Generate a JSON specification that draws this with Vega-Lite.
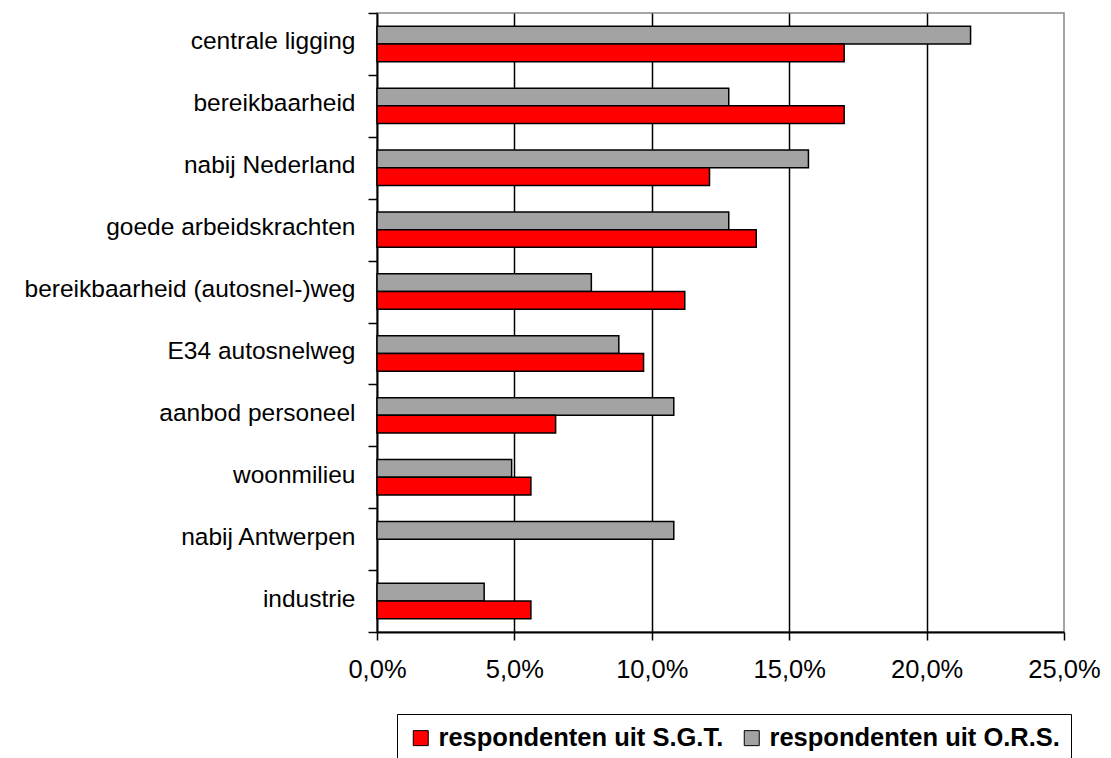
{
  "$schema": "https://vega.github.io/schema/vega-lite/v6.json",
  "width": 687,
  "height": 619,
  "autosize": {"type": "none"},
  "padding": {"left": 377, "top": 13, "right": 47, "bottom": 126},
  "background": "white",
  "config": {"view": {"stroke": "#888888", "strokeWidth": 1.5}, "font": "Liberation Sans"},
  "data": {
    "values": [
      {"factor": "centrale ligging", "group": "respondenten uit O.R.S.", "pct": 21.6},
      {"factor": "centrale ligging", "group": "respondenten uit S.G.T.", "pct": 17.0},
      {"factor": "bereikbaarheid", "group": "respondenten uit O.R.S.", "pct": 12.8},
      {"factor": "bereikbaarheid", "group": "respondenten uit S.G.T.", "pct": 17.0},
      {"factor": "nabij Nederland", "group": "respondenten uit O.R.S.", "pct": 15.7},
      {"factor": "nabij Nederland", "group": "respondenten uit S.G.T.", "pct": 12.1},
      {"factor": "goede arbeidskrachten", "group": "respondenten uit O.R.S.", "pct": 12.8},
      {"factor": "goede arbeidskrachten", "group": "respondenten uit S.G.T.", "pct": 13.8},
      {"factor": "bereikbaarheid (autosnel-)weg", "group": "respondenten uit O.R.S.", "pct": 7.8},
      {"factor": "bereikbaarheid (autosnel-)weg", "group": "respondenten uit S.G.T.", "pct": 11.2},
      {"factor": "E34 autosnelweg", "group": "respondenten uit O.R.S.", "pct": 8.8},
      {"factor": "E34 autosnelweg", "group": "respondenten uit S.G.T.", "pct": 9.7},
      {"factor": "aanbod personeel", "group": "respondenten uit O.R.S.", "pct": 10.8},
      {"factor": "aanbod personeel", "group": "respondenten uit S.G.T.", "pct": 6.5},
      {"factor": "woonmilieu", "group": "respondenten uit O.R.S.", "pct": 4.9},
      {"factor": "woonmilieu", "group": "respondenten uit S.G.T.", "pct": 5.6},
      {"factor": "nabij Antwerpen", "group": "respondenten uit O.R.S.", "pct": 10.8},
      {"factor": "industrie", "group": "respondenten uit O.R.S.", "pct": 3.9},
      {"factor": "industrie", "group": "respondenten uit S.G.T.", "pct": 5.6}
    ]
  },
  "mark": {"type": "bar", "stroke": "black", "strokeWidth": 1.5},
  "encoding": {
    "y": {
      "field": "factor",
      "type": "nominal",
      "sort": ["centrale ligging", "bereikbaarheid", "nabij Nederland", "goede arbeidskrachten", "bereikbaarheid (autosnel-)weg", "E34 autosnelweg", "aanbod personeel", "woonmilieu", "nabij Antwerpen", "industrie"],
      "scale": {"paddingInner": 0, "paddingOuter": 0},
      "axis": {
        "title": null,
        "tickBand": "extent",
        "domainColor": "black",
        "domainWidth": 2,
        "tickColor": "black",
        "tickWidth": 1.5,
        "tickSize": 9,
        "labelFont": "Liberation Sans",
        "labelFontSize": 24.5,
        "labelColor": "black",
        "labelPadding": 13,
        "labelOffset": -2,
        "labelLimit": 400
      }
    },
    "yOffset": {
      "field": "group",
      "type": "nominal",
      "sort": ["respondenten uit O.R.S.", "respondenten uit S.G.T."],
      "scale": {"domain": ["respondenten uit O.R.S.", "respondenten uit S.G.T."], "paddingInner": 0, "paddingOuter": 0.75}
    },
    "x": {
      "field": "pct",
      "type": "quantitative",
      "scale": {"domain": [0, 25], "nice": false},
      "axis": {
        "title": null,
        "values": [0, 5, 10, 15, 20, 25],
        "grid": true,
        "gridColor": "black",
        "gridWidth": 1.5,
        "gridOpacity": {"condition": {"test": "datum.value == 0 || datum.value == 25", "value": 0}, "value": 1},
        "domainColor": "black",
        "domainWidth": 2,
        "tickColor": "black",
        "tickWidth": 1.5,
        "tickSize": 8,
        "labelFont": "Liberation Sans",
        "labelFontSize": 25.5,
        "labelColor": "black",
        "labelPadding": 17,
        "labelFlush": false,
        "labelOverlap": false,
        "labelExpr": "replace(format(datum.value, '.1f'), '.', ',') + '%'"
      }
    },
    "color": {
      "field": "group",
      "type": "nominal",
      "scale": {"domain": ["respondenten uit S.G.T.", "respondenten uit O.R.S."], "range": ["#ff0000", "#a3a3a3"]},
      "legend": {
        "orient": "none",
        "legendX": 20,
        "legendY": 701,
        "direction": "horizontal",
        "title": null,
        "strokeColor": "black",
        "fillColor": "white",
        "padding": 11,
        "symbolType": "square",
        "symbolSize": 225,
        "symbolStrokeColor": "black",
        "symbolStrokeWidth": 1,
        "labelFont": "Liberation Sans",
        "labelFontWeight": "bold",
        "labelFontSize": 25.5,
        "labelColor": "black",
        "labelOffset": 5,
        "columnPadding": 15,
        "labelLimit": 500
      }
    }
  }
}
